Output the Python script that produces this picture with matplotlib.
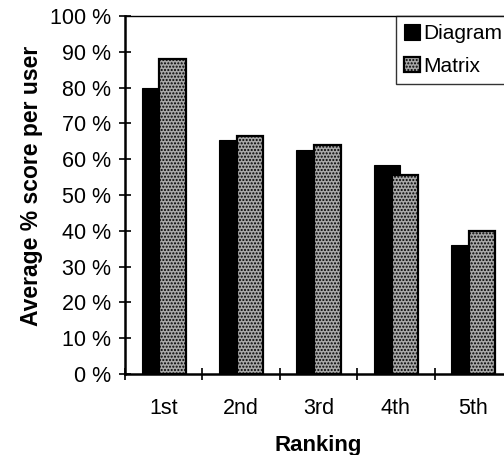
import matplotlib
matplotlib.use("Agg")
import matplotlib.pyplot as plt
import numpy as np

categories = ["1st", "2nd", "3rd", "4th", "5th"]
diagram = [80, 65.5, 62.5, 58.5, 36]
matrix = [88, 66.5, 64, 55.5, 40]
yticks = [0, 10, 20, 30, 40, 50, 60, 70, 80, 90, 100]
ytick_labels = [f"{v} %" for v in yticks]

plt.rcParams['font.family'] = ['Liberation Sans', 'DejaVu Sans']

fig = plt.figure(figsize=(5.04, 4.55), dpi=100)
W, H = 504, 455
ax = fig.add_axes([125 / W, 1 - 374 / H, 387 / W, 358 / H])

x = np.arange(len(categories))
w = 0.34
off = 0.115
ax.bar(x - off, diagram, width=w, color='black', edgecolor='black', linewidth=0.8,
       label='Diagram', zorder=2)
ax.bar(x + off, matrix, width=w, facecolor='#a8a8a8', edgecolor='black', hatch='.....',
       linewidth=1.6, label='Matrix', zorder=3)

ax.set_xlim(-0.5, len(categories) - 0.5)
ax.set_ylim(0, 100)
ax.set_yticks(yticks)
ax.set_yticklabels(ytick_labels)
ax.set_xticks(x)
ax.set_xticklabels(categories)
ax.set_xticks(np.arange(len(categories) + 1) - 0.5, minor=True)

ax.tick_params(axis='y', direction='inout', length=8, width=1.2, pad=6, labelsize=15.5)
ax.tick_params(axis='x', which='major', length=0, pad=17, labelsize=15.5)
ax.tick_params(axis='x', which='minor', direction='inout', length=9, width=1.2)

for s in ['left', 'bottom']:
    ax.spines[s].set_linewidth(1.8)
ax.spines['top'].set_linewidth(1.0)
ax.spines['right'].set_visible(False)

ax.set_ylabel("Average % score per user", fontsize=16.5, fontweight='bold')
ax.yaxis.set_label_coords(-0.212, 0.525)
ax.set_xlabel("Ranking", fontsize=16, fontweight='bold', labelpad=12)

leg = ax.legend(loc='upper left', bbox_to_anchor=(396 / W, 1 - 16 / H),
                bbox_transform=fig.transFigure, fancybox=False, frameon=True,
                edgecolor='black', fontsize=15, handlelength=0.75, handleheight=0.75,
                handletextpad=0.15, borderpad=0.4, labelspacing=0.65, borderaxespad=0)
leg.get_frame().set_linewidth(1.0)

fig.savefig("out.png", dpi=100)
